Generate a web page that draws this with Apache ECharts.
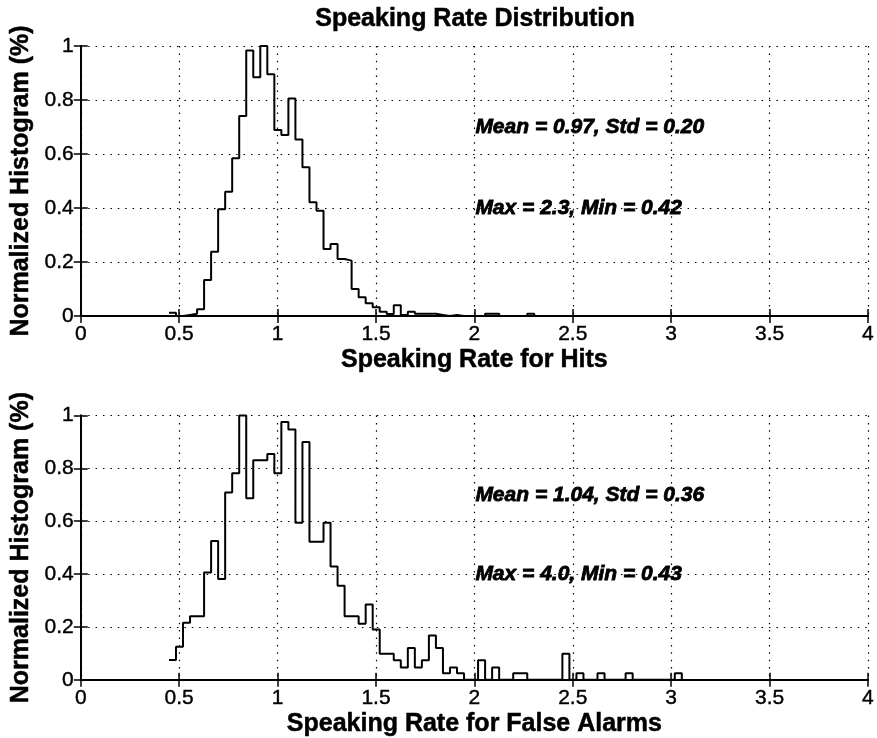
<!DOCTYPE html>
<html>
<head>
<meta charset="utf-8">
<script src="https://cdn.jsdelivr.net/npm/echarts@6/dist/echarts.min.js"></script>
<style>html,body{margin:0;padding:0;background:#fff}#c{width:877px;height:738px}</style>
</head>
<body>
<div id="c"></div>
<script>
// Histogram bins: stairs drawn from bin centres (MATLAB hist, 100 bins)
const binStart = 0.448;
const binWidth = 0.0357;

// Normalized histogram heights, Hits (top)
const hitsHist = [
  0.012, 0.000, 0.004, 0.008, 0.025, 0.133, 0.238, 0.395, 0.460, 0.584,
  0.741, 0.983, 0.884, 1.000, 0.895, 0.689, 0.670, 0.806, 0.654, 0.551,
  0.421, 0.390, 0.248, 0.267, 0.211, 0.205, 0.100, 0.069, 0.047, 0.032,
  0.016, 0.007, 0.040, 0.004, 0.016, 0.008, 0.008, 0.008, 0.004, 0.000,
  0.004, 0.000, 0.000, 0.000, 0.000, 0.008, 0.008, 0.000, 0.000, 0.000,
  0.000, 0.008, 0.000
];

// Normalized histogram heights, False Alarms (bottom)
const faHist = [
  0.075, 0.125, 0.216, 0.240, 0.240, 0.406, 0.525, 0.381, 0.709, 0.781,
  1.000, 0.687, 0.831, 0.831, 0.854, 0.781, 0.975, 0.947, 0.594, 0.900,
  0.522, 0.522, 0.594, 0.429, 0.356, 0.240, 0.240, 0.212, 0.285, 0.190,
  0.098, 0.098, 0.074, 0.046, 0.120, 0.046, 0.074, 0.167, 0.120, 0.025,
  0.046, 0.025, 0.000, 0.000, 0.074, 0.000, 0.046, 0.000, 0.000, 0.025,
  0.025, 0.000, 0.000, 0.000, 0.000, 0.000, 0.098, 0.000, 0.025, 0.000,
  0.000, 0.025, 0.000, 0.000, 0.000, 0.025, 0.000, 0.000, 0.000, 0.000,
  0.000, 0.000, 0.025, 0.000
];

const xTicks = { min: 0, max: 4, interval: 0.5 };
const yTicks = { min: 0, max: 1, interval: 0.2 };

const titleText = 'Speaking Rate Distribution';
const yLabel = 'Normalized Histogram (%)';
const xLabels = ['Speaking Rate for Hits', 'Speaking Rate for False Alarms'];

const hitsNotes = [
  { x: 2.0, y: 0.7, text: 'Mean = 0.97, Std = 0.20' },
  { x: 2.0, y: 0.4, text: 'Max = 2.3, Min = 0.42' }
];
const faNotes = [
  { x: 2.0, y: 0.7, text: 'Mean = 1.04, Std = 0.36' },
  { x: 2.0, y: 0.4, text: 'Max = 4.0, Min = 0.43' }
];

const FONT = "'Liberation Sans', Arial, Helvetica, sans-serif";

function toSteps(h) {
  return h.map((v, i) => [binStart + i * binWidth, v]);
}

const chart = echarts.init(document.getElementById('c'), null, { renderer: 'canvas' });

const grids = [
  { left: 77, top: 46, width: 795, height: 270 },
  { left: 77, top: 415.5, width: 795, height: 265 }
];

const dotted = { color: '#000', width: 1.2, type: [1.5, 5.9] };
const boxLine = { show: true, lineStyle: { color: '#000', width: 2 } };
const tickStyle = { show: true, inside: true, length: 7, lineStyle: { color: '#000', width: 1.5 } };
const tickLabel = { color: '#000', fontSize: 21, fontFamily: FONT, textBorderColor: '#000', textBorderWidth: 0.4 };
const nameStyle = { color: '#000', fontSize: 25, fontWeight: 'bold', fontFamily: FONT, textBorderColor: '#000', textBorderWidth: 0.5 };

function mainX(gi, name) {
  return {
    type: 'value', gridIndex: gi, position: 'bottom',
    min: xTicks.min, max: xTicks.max, interval: xTicks.interval,
    axisLine: boxLine, axisTick: tickStyle,
    axisLabel: Object.assign({ margin: 8 }, tickLabel),
    splitLine: { show: true, lineStyle: dotted },
    name: name, nameLocation: 'middle', nameGap: 32,
    nameTextStyle: nameStyle
  };
}
function topX(gi) {
  return {
    type: 'value', gridIndex: gi, position: 'top',
    min: xTicks.min, max: xTicks.max, interval: xTicks.interval,
    axisLine: boxLine, axisTick: tickStyle,
    axisLabel: { show: false }, splitLine: { show: false }
  };
}
function mainY(gi) {
  return {
    type: 'value', gridIndex: gi, position: 'left',
    min: yTicks.min, max: yTicks.max, interval: yTicks.interval,
    axisLine: boxLine, axisTick: tickStyle,
    axisLabel: Object.assign({ margin: 7 }, tickLabel),
    splitLine: { show: true, lineStyle: dotted },
    name: yLabel, nameLocation: 'middle', nameGap: 40, nameRotate: 90,
    nameTextStyle: nameStyle
  };
}
function rightY(gi) {
  return {
    type: 'value', gridIndex: gi, position: 'right',
    min: yTicks.min, max: yTicks.max, interval: yTicks.interval,
    axisLine: boxLine, axisTick: tickStyle,
    axisLabel: { show: false }, splitLine: { show: false }
  };
}

function histSeries(gi, h) {
  return {
    type: 'line', xAxisIndex: gi * 2, yAxisIndex: gi * 2,
    data: toSteps(h), step: 'end', symbol: 'none', silent: true,
    lineStyle: { color: '#000', width: 2 }, z: 5, clip: false
  };
}
function noteSeries(gi, notes) {
  return {
    type: 'scatter', xAxisIndex: gi * 2, yAxisIndex: gi * 2,
    symbolSize: 0, silent: true, z: 6,
    itemStyle: { opacity: 1, color: '#000' },
    data: notes.map(n => ({ value: [n.x, n.y], name: n.text })),
    label: {
      show: true, position: 'right', distance: 1, opacity: 1,
      formatter: p => p.name,
      color: '#000', fontSize: 21, fontWeight: 'bold', fontStyle: 'italic', fontFamily: FONT,
      textBorderColor: '#000', textBorderWidth: 0.8
    }
  };
}

chart.setOption({
  backgroundColor: '#fff',
  animation: false,
  grid: grids,
  xAxis: [mainX(0, xLabels[0]), topX(0), mainX(1, xLabels[1]), topX(1)],
  yAxis: [mainY(0), rightY(0), mainY(1), rightY(1)],
  graphic: [{
    type: 'text', x: 475, y: 19,
    style: {
      text: titleText, align: 'center', verticalAlign: 'middle',
      fill: '#000', fontSize: 25, fontWeight: 'bold', fontFamily: FONT,
      stroke: '#000', lineWidth: 0.5
    }
  }],
  series: [
    histSeries(0, hitsHist),
    noteSeries(0, hitsNotes),
    histSeries(1, faHist),
    noteSeries(1, faNotes)
  ]
});
</script>
</body>
</html>
